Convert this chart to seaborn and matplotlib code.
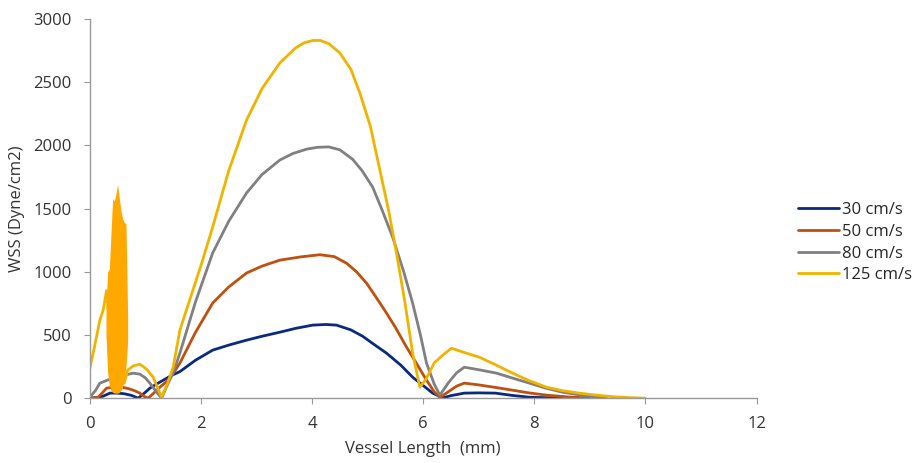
import seaborn as sns
import matplotlib.pyplot as plt

# WSS along vessel length
x30 = [0, 0.12, 0.24, 0.36, 0.5, 0.62, 0.75, 0.87, 0.98, 1.08, 1.2, 1.32, 1.47, 1.62, 1.9, 2.21, 2.5,
       2.82, 3.1, 3.42, 3.7, 4.01, 4.25, 4.44, 4.7, 4.91, 5.1, 5.34, 5.6, 5.81, 6.0, 6.17, 6.35, 6.5,
       6.74, 7.0, 7.3, 7.6, 7.9, 8.2, 8.5, 9.0]
y30 = [0, 5, 16, 40, 40, 35, 22, 0, 40, 79, 112, 142, 180, 210, 300, 380, 420, 459, 490, 522, 552,
       578, 583, 578, 540, 490, 430, 356, 260, 166, 100, 40, 2, 20, 40, 42, 40, 22, 8, 4, 2, 0]

x50 = [0, 0.15, 0.22, 0.3, 0.45, 0.6, 0.7, 0.8, 0.9, 0.97, 1.05, 1.15, 1.26, 1.35, 1.44, 1.62, 1.9,
       2.21, 2.5, 2.82, 3.1, 3.42, 3.8, 4.14, 4.4, 4.62, 4.8, 4.98, 5.15, 5.34, 5.5, 5.7, 5.9, 6.06,
       6.2, 6.3, 6.45, 6.6, 6.74, 7.0, 7.3, 7.61, 7.9, 8.22, 8.6, 9.0]
y50 = [0, 8, 40, 79, 90, 85, 75, 60, 40, 15, 0, 40, 87, 120, 158, 277, 520, 752, 880, 990, 1045,
       1092, 1118, 1135, 1120, 1068, 1000, 910, 800, 673, 560, 404, 260, 142, 50, 5, 50, 95, 119,
       105, 85, 63, 42, 24, 10, 0]

x80 = [0, 0.1, 0.18, 0.36, 0.5, 0.65, 0.78, 0.9, 1.0, 1.08, 1.18, 1.29, 1.4, 1.5, 1.62, 1.9, 2.21,
       2.5, 2.82, 3.1, 3.42, 3.65, 3.9, 4.1, 4.3, 4.5, 4.73, 4.9, 5.09, 5.25, 5.45, 5.65, 5.81, 5.95,
       6.06, 6.2, 6.3, 6.45, 6.6, 6.74, 7.0, 7.32, 7.6, 7.91, 8.2, 8.5, 8.9, 9.3]
y80 = [8, 60, 119, 150, 165, 185, 198, 190, 160, 119, 60, 0, 110, 200, 356, 760, 1148, 1400, 1623,
       1770, 1884, 1935, 1970, 1985, 1988, 1965, 1890, 1800, 1670, 1500, 1274, 1000, 752, 500, 277,
       110, 24, 120, 200, 245, 225, 198, 160, 119, 80, 48, 20, 0]

x125 = [0, 0.08, 0.18, 0.24, 0.3, 0.45, 0.62, 0.68, 0.78, 0.9, 1.02, 1.14, 1.22, 1.29, 1.4, 1.5,
        1.62, 1.74, 2.0, 2.21, 2.5, 2.82, 3.1, 3.42, 3.7, 3.85, 4.01, 4.15, 4.3, 4.5, 4.7, 4.86, 5.05,
        5.22, 5.38, 5.52, 5.67, 5.81, 5.94, 6.05, 6.2, 6.35, 6.51, 6.75, 7.01, 7.3, 7.61, 7.9, 8.22,
        8.5, 8.81, 9.1, 9.4, 9.7, 10.0]
y125 = [237, 400, 617, 697, 850, 100, 120, 221, 255, 269, 230, 166, 80, 8, 120, 245, 537, 700,
        1050, 1353, 1800, 2200, 2450, 2652, 2770, 2810, 2830, 2830, 2805, 2731, 2600, 2414, 2150,
        1805, 1480, 1148, 760, 356, 87, 150, 280, 340, 395, 360, 324, 265, 198, 140, 87, 60, 40,
        25, 12, 5, 0]

# the noisy burst of the 125 cm/s series near the inlet
spike_x = [0.29, 0.32, 0.35, 0.38, 0.41, 0.44, 0.47, 0.50, 0.53, 0.56, 0.59, 0.62, 0.65, 0.68]
spike_hi = [720, 1000, 1020, 1300, 1580, 1560, 1620, 1690, 1580, 1480, 1420, 1390, 1380, 650]
spike_lo = [500, 200, 100, 60, 45, 40, 40, 40, 45, 60, 90, 150, 250, 450]

labels = ['30 cm/s', '50 cm/s', '80 cm/s', '125 cm/s']
colors = ['#0a2a80', '#c0500f', '#808080', '#f0b400']
series = [(x30, y30), (x50, y50), (x80, y80), (x125, y125)]

sns.set_style('white')
plt.rcParams['font.family'] = ['Open Sans', 'DejaVu Sans']

fig = plt.figure(figsize=(9.17, 4.63), dpi=100)
ax = fig.add_axes([0.098, 0.14, 0.727, 0.819])

for (xs, ys), lab, col in zip(series, labels, colors):
    sns.lineplot(x=xs, y=ys, ax=ax, color=col, label=lab, linewidth=2.0, sort=False)

ax.fill_between(spike_x, spike_lo, spike_hi, color='#ffa800', linewidth=0, zorder=5)

ax.set_xlim(0, 12)
ax.set_ylim(0, 3000)
ax.set_xticks(range(0, 13, 2))
ax.set_yticks(range(0, 3001, 500))
ax.tick_params(axis='both', labelsize=12, labelcolor='#333333', color='#999999', length=4,
               direction='out', bottom=True, left=True)
ax.tick_params(axis='x', pad=9)
ax.tick_params(axis='y', pad=9)
sns.despine(ax=ax)
for side in ['left', 'bottom']:
    ax.spines[side].set_color('#999999')
    ax.spines[side].set_linewidth(1)

ax.set_xlabel('Vessel Length  (mm)', fontsize=12, color='#333333', labelpad=6)
ax.set_ylabel('WSS (Dyne/cm2)', fontsize=12, color='#333333', labelpad=6)

ax.legend(loc='upper left', bbox_to_anchor=(0.870, 0.563), bbox_transform=fig.transFigure,
          frameon=False, fontsize=12, handlelength=2.5, handletextpad=0.15, labelspacing=0.34,
          borderpad=0, borderaxespad=0)

fig.savefig('out.png', dpi=100)
